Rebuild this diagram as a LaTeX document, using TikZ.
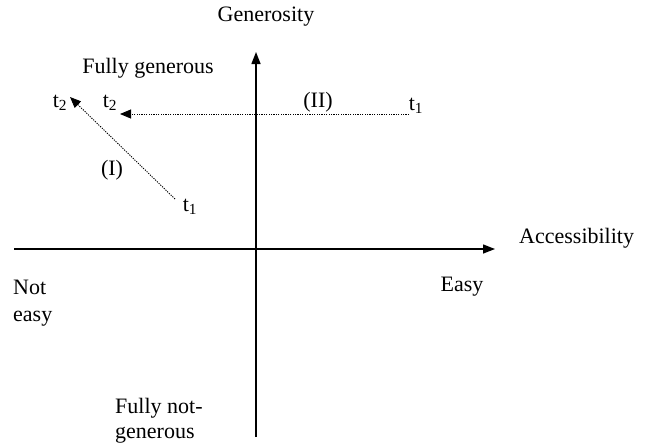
\documentclass[tikz,border=0pt]{standalone}
\usepackage{fontspec}
\setmainfont{Liberation Serif}
\usetikzlibrary{arrows.meta,positioning}
\tikzset{
  axis/.style  = {-{Triangle[length=12pt,width=9pt]}, line width=1.4pt},
  move/.style  = {-{Triangle[length=11pt,width=9pt]}, line width=0.9pt,
                  dash pattern=on 1.2pt off 1.2pt},
  lab/.style   = {font=\fontsize{22}{25}\selectfont, inner sep=1pt},
  lbl/.style   = {lab, align=left},
}

\begin{document}
\begin{tikzpicture}[x=1pt, y=-1pt]
  \useasboundingbox (0,0) rectangle (650,445);
  % axes
  \coordinate (xl) at (14,249);
  \coordinate (xr) at (495,249);
  \coordinate (yb) at (256,437);
  \coordinate (yt) at (256,52);
  \draw[axis] (xl) -- (xr);
  \draw[axis] (yb) -- (yt);

  \node[lab] (gen) at (266,17) {Generosity};
  \node[lab, anchor=west] (acc) at (518,238) {Accessibility};
  \node[lbl, anchor=west, font=\fontsize{22}{27}\selectfont] (noteasy) at (12,303) {Not\\easy};
  \node[lab] (easy) at (462,287) {Easy};
  \node[lbl, anchor=west] (fng) at (114,421) {Fully not-\\generous};
  \node[lab] (fg) at (148,68) {Fully generous};

  % movements
  \node[lab] (t2a) at (60,103) {t\textsubscript{2}};
  \node[lab] (t2b) at (110,103) {t\textsubscript{2}};
  \node[lab] (t1b) at (416,106) {t\textsubscript{1}};
  \node[lab] (t1a) at (190,207) {t\textsubscript{1}};
  \node[lab] (mII) at (318,102) {(II)};
  \node[lab] (mI) at (112,170) {(I)};
  \coordinate (Is) at (175,199);
  \coordinate (Ie) at (70,97);
  \coordinate (IIs) at (409,114);
  \coordinate (IIe) at (120,114);
  \draw[move] (Is) -- (Ie);
  \draw[move] (IIs) -- (IIe);
\end{tikzpicture}
\end{document}
